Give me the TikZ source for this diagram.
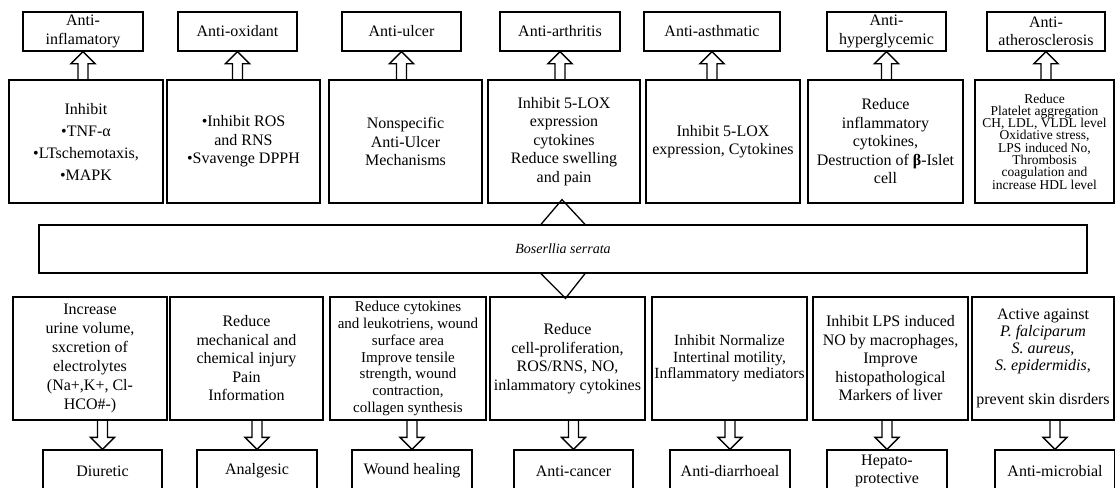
\documentclass[tikz,border=0pt]{standalone}
\usepackage{fontspec}
\setmainfont{Liberation Serif}
\usetikzlibrary{calc}

\newcommand{\fatarrow}[2]{%
    \draw[fat] ($(#1)+(-5,0)$) -- ($(#2)!12pt!(#1)+(-5,0)$) -- ($(#2)!12pt!(#1)+(-12,0)$)
        -- (#2) -- ($(#2)!12pt!(#1)+(12,0)$) -- ($(#2)!12pt!(#1)+(5,0)$) -- ($(#1)+(5,0)$);}

\begin{document}
\begin{tikzpicture}[x=1pt, y=-1pt,
        box/.style={draw, line width=1.3pt, align=center, inner sep=1pt,
            font=\fontsize{16}{18.5}\selectfont},
        lab/.style={box, minimum height=39pt},
        cell/.style={box, minimum height=123pt},
        fat/.style={line width=1.3pt, line join=miter}]
                \clip (0,0) rectangle (1115,487);
                % effects
                \node[lab, minimum width=120pt] (lab1) at (83,31.5) {Anti-\\inflamatory};
                \node[lab, minimum width=119pt] (lab2) at (237.5,31.5) {Anti-oxidant};
                \node[lab, minimum width=119pt] (lab3) at (401.5,31.5) {Anti-ulcer};
                \node[lab, minimum width=120pt] (lab4) at (560,31.5) {Anti-arthritis};
                \node[lab, minimum width=136pt] (lab5) at (712,31.5) {Anti-asthmatic};
                \node[lab, minimum width=119pt] (lab6) at (886.5,31.5) {Anti-\\hyperglycemic};
                \node[lab, minimum width=118pt] (lab7) at (1046,31.5) {Anti-\\atherosclerosis};
                % mechanisms
                \node[cell, minimum width=154pt, font=\fontsize{16}{22}\selectfont] (m1) at (86,141.5)
                    {Inhibit\\•TNF-α\\•LTschemotaxis,\\•MAPK};
                \node[cell, minimum width=153pt] (m2) at (243.5,141.5) {•Inhibit ROS\\and RNS\\•Svavenge DPPH};
                \node[cell, minimum width=153pt] (m3) at (405.5,141.5) {Nonspecific\\Anti-Ulcer\\Mechanisms};
                \node[cell, minimum width=152pt] (m4) at (564,141.5)
                    {Inhibit 5-LOX\\expression\\cytokines\\Reduce swelling\\and pain};
                \node[cell, minimum width=154pt] (m5) at (723,141.5) {Inhibit 5-LOX\\expression, Cytokines};
                \node[cell, minimum width=155pt] (m6) at (885.5,141.5)
                    {Reduce\\inflammatory\\cytokines,\\Destruction of \textbf{β}-Islet\\cell};
                \node[cell, minimum width=139pt, font=\fontsize{13.5}{12.3}\selectfont] (m7) at (1044.5,141.5)
                    {Reduce\\Platelet aggregation\\CH, LDL, VLDL level\\Oxidative stress,\\LPS induced No,\\Thrombosis\\coagulation and\\increase HDL level};
                \node[box, minimum width=1048pt, minimum height=48pt, font=\fontsize{14}{16}\selectfont\itshape]
                    (bos) at (563,249) {Boserllia serrata};
                \node[cell, minimum width=154pt, font=\fontsize{16}{19}\selectfont] (b1) at (90,358.5)
                    {Increase\\urine volume,\\sxcretion of\\electrolytes\\(Na+,K+, Cl-\\HCO\#-)};
                \node[cell, minimum width=153pt] (b2) at (246.5,358.5)
                    {Reduce\\mechanical and\\chemical injury\\Pain\\Information};
                \node[cell, minimum width=156pt, font=\fontsize{15}{16.8}\selectfont] (b3) at (408,358.5)
                    {Reduce cytokines\\and leukotriens, wound\\surface area\\Improve tensile\\strength, wound\\contraction,\\collagen synthesis};
                \node[cell, minimum width=155pt] (b4) at (567.5,358.5)
                    {Reduce\\cell-proliferation,\\ROS/RNS, NO,\\inlammatory cytokines};
                \node[cell, minimum width=155pt, font=\fontsize{15.5}{16.5}\selectfont] (b5) at (729.5,358.5)
                    {Inhibit Normalize\\Intertinal motility,\\Inflammatory mediators};
                \node[cell, minimum width=155pt] (b6) at (890.5,358.5)
                    {Inhibit LPS induced\\NO by macrophages,\\Improve\\histopathological\\Markers of liver};
                \node[cell, minimum width=142pt, font=\fontsize{16}{17}\selectfont] (b7) at (1043,358.5)
                    {Active against\\\textit{P. falciparum}\\\textit{S. aureus},\\\textit{S. epidermidis},\\[17pt]prevent skin disrders};
                % activities
                \node[box, minimum width=119pt, minimum height=42pt] (d1) at (102.5,471) {Diuretic};
                \node[box, minimum width=120pt, minimum height=42pt] (d2) at (257,471) {Analgesic};
                \node[box, minimum width=120pt, minimum height=42pt] (d3) at (412,471) {Wound healing};
                \node[box, minimum width=119pt, minimum height=42pt] (d4) at (573.5,471) {Anti-cancer};
                \node[box, minimum width=120pt, minimum height=42pt] (d5) at (730,471) {Anti-diarrhoeal};
                \node[box, minimum width=120pt, minimum height=42pt] (d6) at (887,471) {Hepato-\\protective};
                \node[box, minimum width=120pt, minimum height=42pt] (d7) at (1055,471) {Anti-microbial};
                \fatarrow{lab1.south |- m1.north}{lab1.south}
                \fatarrow{lab2.south |- m2.north}{lab2.south}
                \fatarrow{lab3.south |- m3.north}{lab3.south}
                \fatarrow{lab4.south |- m4.north}{lab4.south}
                \fatarrow{lab5.south |- m5.north}{lab5.south}
                \fatarrow{lab6.south |- m6.north}{lab6.south}
                \fatarrow{lab7.south |- m7.north}{lab7.south}
                \fatarrow{d1.north |- b1.south}{d1.north}
                \fatarrow{d2.north |- b2.south}{d2.north}
                \fatarrow{d3.north |- b3.south}{d3.north}
                \fatarrow{d4.north |- b4.south}{d4.north}
                \fatarrow{d5.north |- b5.south}{d5.north}
                \fatarrow{d6.north |- b6.south}{d6.north}
                \fatarrow{d7.north |- b7.south}{d7.north}
                \draw[fat] ($(bos.north)+(-22,0)$) -- ($(m4.south)+(-2,-4)$) -- ($(bos.north)+(22,0)$);
                \draw[fat] ($(bos.south)+(-22,0)$) -- ($(b4.north)+(-2,2)$) -- ($(bos.south)+(22,0)$);
\end{tikzpicture}
\end{document}
